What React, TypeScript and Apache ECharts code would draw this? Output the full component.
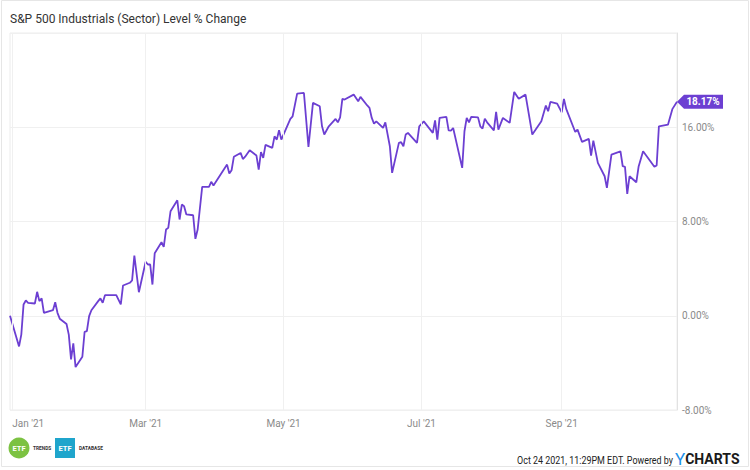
import React, { useEffect, useRef } from "react";
import * as echarts from "echarts";

const TITLE = "S&P 500 Industrials (Sector) Level % Change";
const FOOTER = "Oct 24 2021, 11:29PM EDT. Powered by";
const LINE_COLOR = "#6c3fd2";

const START = "2020-12-31";
const END = "2021-10-22";

const monthTicks = ["2021-01-01", "2021-03-01", "2021-05-01", "2021-07-01", "2021-09-01"];
const monthLabels = ["Jan '21", "Mar '21", "May '21", "Jul '21", "Sep '21"];

const dates = [
  "2020-12-31", "2021-01-04", "2021-01-05", "2021-01-06", "2021-01-07", "2021-01-08", "2021-01-11", "2021-01-12",
  "2021-01-13", "2021-01-14", "2021-01-15", "2021-01-19", "2021-01-20", "2021-01-21", "2021-01-22", "2021-01-25",
  "2021-01-26", "2021-01-27", "2021-01-28", "2021-01-29", "2021-02-01", "2021-02-02", "2021-02-03", "2021-02-04",
  "2021-02-05", "2021-02-08", "2021-02-09", "2021-02-10", "2021-02-11", "2021-02-12", "2021-02-16", "2021-02-18",
  "2021-02-19", "2021-02-22", "2021-02-23", "2021-02-24", "2021-02-26", "2021-03-01", "2021-03-02", "2021-03-03",
  "2021-03-04", "2021-03-05", "2021-03-08", "2021-03-09", "2021-03-10", "2021-03-11", "2021-03-12", "2021-03-15",
  "2021-03-16", "2021-03-17", "2021-03-18", "2021-03-19", "2021-03-22", "2021-03-23", "2021-03-24", "2021-03-26",
  "2021-03-29", "2021-03-30", "2021-03-31", "2021-04-06", "2021-04-07", "2021-04-08", "2021-04-09", "2021-04-12",
  "2021-04-13", "2021-04-14", "2021-04-16", "2021-04-19", "2021-04-20", "2021-04-21", "2021-04-22", "2021-04-23",
  "2021-04-26", "2021-04-27", "2021-04-28", "2021-04-29", "2021-04-30", "2021-05-04", "2021-05-05", "2021-05-07",
  "2021-05-10", "2021-05-12", "2021-05-14", "2021-05-17", "2021-05-18", "2021-05-19", "2021-05-21", "2021-05-24",
  "2021-05-25", "2021-05-26", "2021-05-27", "2021-05-28", "2021-06-01", "2021-06-03", "2021-06-04", "2021-06-07",
  "2021-06-08", "2021-06-09", "2021-06-10", "2021-06-11", "2021-06-14", "2021-06-15", "2021-06-17", "2021-06-18",
  "2021-06-21", "2021-06-22", "2021-06-23", "2021-06-24", "2021-06-25", "2021-06-29", "2021-06-30", "2021-07-02",
  "2021-07-06", "2021-07-07", "2021-07-08", "2021-07-09", "2021-07-12", "2021-07-13", "2021-07-14", "2021-07-15",
  "2021-07-19", "2021-07-20", "2021-07-21", "2021-07-22", "2021-07-23", "2021-07-26", "2021-07-27", "2021-07-28",
  "2021-07-29", "2021-07-30", "2021-08-02", "2021-08-03", "2021-08-04", "2021-08-06", "2021-08-09", "2021-08-11",
  "2021-08-13", "2021-08-16", "2021-08-19", "2021-08-23", "2021-08-25", "2021-08-26", "2021-08-27", "2021-08-30",
  "2021-09-01", "2021-09-02", "2021-09-03", "2021-09-07", "2021-09-08", "2021-09-10", "2021-09-13", "2021-09-14",
  "2021-09-15", "2021-09-17", "2021-09-20", "2021-09-21", "2021-09-23", "2021-09-27", "2021-09-28", "2021-09-29",
  "2021-09-30", "2021-10-01", "2021-10-04", "2021-10-05", "2021-10-07", "2021-10-12", "2021-10-13", "2021-10-14",
  "2021-10-18", "2021-10-20", "2021-10-22",
];

const values = [
  0, -2.6, -1.6, 0.96, 1.3, 1.1, 1.04, 2.03,
  1.24, 1.47, 0.25, 0.47, 1.15, 0.25, -0.25, -0.7,
  -1.6, -3.7, -2.35, -4.36, -3.48, -1.36, -1.3, -0.03,
  0.47, 1.24, 1.47, 1.1, 1.75, 1.75, 1.75, 0.96,
  2.57, 2.8, 3.0, 5.1, 2.0, 4.58, 4.35, 4.35,
  2.65, 5.3, 6.24, 5.85, 7.32, 7.46, 8.87, 9.8,
  8.17, 9.44, 9.3, 8.6, 8.53, 6.53, 7.32, 10.94,
  10.94, 11.37, 11.05, 12.83, 12.07, 12.35, 13.49, 13.82,
  13.3, 13.5, 14.05, 13.6, 12.4, 13.9, 13.4, 14.5,
  14.25, 15.23, 14.95, 15.74, 14.95, 16.71, 16.93, 18.86,
  18.91, 14.33, 18.07, 17.78, 16.08, 15.38, 16.08, 16.71,
  16.42, 16.84, 18.41, 18.35, 18.77, 18.2, 18.58, 17.85,
  17.64, 16.79, 16.31, 16.5, 15.94, 16.42, 14.39, 12.13,
  14.67, 14.73, 14.39, 15.38, 15.52, 14.67, 16.08, 16.5,
  15.52, 16.59, 14.95, 16.79, 16.88, 15.74, 15.71, 15.94,
  12.55, 15.66, 16.79, 16.42, 16.88, 16.84, 16.08, 15.89,
  16.73, 16.42, 15.74, 17.3, 15.8, 16.79, 16.37, 19.0,
  18.41, 18.77, 15.38, 16.5, 17.84, 17.36, 18.15, 18.0,
  17.27, 18.41, 17.56, 15.6, 15.8, 14.76, 15.01, 13.6,
  14.87, 12.98, 11.84, 10.86, 13.68, 13.96, 12.69, 12.64,
  10.35, 11.84, 11.33, 12.64, 13.96, 12.64, 12.75, 16.08,
  16.22, 17.56, 18.17,
];

const yMin = -8;
const yMax = 24;
const yStep = 8;

export default function App() {
  const ref = useRef<HTMLDivElement>(null);

  useEffect(() => {
    if (!ref.current) return;
    const chart = echarts.init(ref.current, undefined, { renderer: "svg" });
    const seriesData = dates.map((d, i) => [d, values[i]]);
    const lastIdx = values.length - 1;
    const lastLabel = values[lastIdx].toFixed(2) + "%";

    const option: any = {
      animation: false,
      backgroundColor: "#ffffff",
      textStyle: { fontFamily: "Roboto" },
      grid: {
        left: 10,
        right: 73,
        top: 33,
        bottom: 60,
        containLabel: false,
        outerBoundsMode: "none",
        show: true,
        borderColor: "#ececec",
        borderWidth: 1,
        backgroundColor: "transparent",
      },
      xAxis: {
        type: "time",
        min: START,
        max: END,
        axisLabel: { show: false },
        axisTick: { show: false },
        axisLine: { show: false },
        splitLine: { show: false },
      },
      yAxis: {
        type: "value",
        position: "right",
        min: yMin,
        max: yMax,
        interval: yStep,
        axisLine: { show: true, lineStyle: { color: "#e2e2e2" } },
        axisTick: { show: false },
        splitLine: { show: true, lineStyle: { color: "#f0f0f0" } },
        axisLabel: {
          formatter: (v: number) => v.toFixed(2) + "%",
          color: "#8a8a8a",
          fontSize: 10,
          margin: 5,
          showMaxLabel: false,
          padding: [0, 0, 6, 0],
        },
      },
      series: [
        {
          type: "line",
          data: seriesData,
          z: 1,
          silent: true,
          showSymbol: false,
          lineStyle: { opacity: 0 },
          markLine: {
            silent: true,
            symbol: ["none", "none"],
            lineStyle: { color: "#f0f0f0", type: "solid", width: 1 },
            label: { show: true, position: "start", color: "#8a8a8a", fontSize: 10, distance: 8 },
            data: monthTicks.map((d, i) => ({
              xAxis: d,
              label: { formatter: monthLabels[i], align: i === 0 ? "left" : "center" },
            })),
          },
        },
        {
          type: "line",
          data: seriesData,
          z: 3,
          showSymbol: false,
          lineStyle: { color: LINE_COLOR, width: 1.8 },
          itemStyle: { color: LINE_COLOR },
          markPoint: {
            silent: true,
            symbol: "path://M0,7L7,0L46,0L46,14L7,14Z",
            symbolSize: [46, 14],
            symbolOffset: [23, 0],
            itemStyle: { color: LINE_COLOR },
            label: {
              show: true,
              position: "inside",
              formatter: lastLabel,
              color: "#ffffff",
              fontWeight: "bold",
              fontSize: 10,
              offset: [3, 0],
            },
            data: [{ coord: [dates[lastIdx], values[lastIdx]], value: values[lastIdx] }],
          },
        },
      ],
      graphic: [
        {
          type: "rect",
          silent: true,
          z: -10,
          shape: { x: 1.5, y: 0.5, width: 747, height: 466 },
          style: { fill: "none", stroke: "#e6e6e6", lineWidth: 1 },
        },
        {
          type: "text",
          x: 10,
          y: 19,
          style: {
            text: TITLE,
            fontSize: 12,
            fontFamily: "Roboto",
            fill: "#333333",
            verticalAlign: "middle",
          },
        },
        {
          type: "circle",
          shape: { cx: 19, cy: 448, r: 10.5 },
          style: { fill: "#7cc242" },
        },
        {
          type: "text",
          x: 19,
          y: 448,
          style: { text: "ETF", fontSize: 7.5, fontWeight: "bold", fontFamily: "Roboto", fill: "#ffffff", align: "center", verticalAlign: "middle" },
        },
        {
          type: "text",
          x: 33,
          y: 448,
          style: { text: "TRENDS", fontSize: 4.8, fontWeight: "bold", fontFamily: "Roboto", fill: "#333333", verticalAlign: "middle" },
        },
        {
          type: "rect",
          shape: { x: 55, y: 438, width: 20, height: 20 },
          style: { fill: "#1fa5cc" },
        },
        {
          type: "text",
          x: 65,
          y: 448,
          style: { text: "ETF", fontSize: 7.5, fontWeight: "bold", fontFamily: "Roboto", fill: "#ffffff", align: "center", verticalAlign: "middle" },
        },
        {
          type: "text",
          x: 79,
          y: 448,
          style: { text: "DATABASE", fontSize: 4.8, fontWeight: "bold", fontFamily: "Roboto", fill: "#333333", verticalAlign: "middle" },
        },
        {
          type: "group",
          x: 673,
          y: 460,
          scaleX: 0.85,
          children: [
            {
              type: "text",
              x: 0,
              y: 0,
              style: { text: FOOTER, fontSize: 10.5, fontFamily: "Roboto", fill: "#222222", align: "right", verticalAlign: "middle" },
            },
          ],
        },
        {
          type: "text",
          x: 675,
          y: 459,
          style: {
            text: "{y|Y}{c|CHARTS}",
            verticalAlign: "middle",
            rich: {
              y: { fontSize: 17, fontFamily: "Roboto", fill: "#1e90e8", fontWeight: "normal" },
              c: { fontSize: 14, fontFamily: "Roboto", fill: "#1a1a1a", fontWeight: "bold" },
            },
          },
        },
      ],
    };

    chart.setOption(option);
    return () => chart.dispose();
  }, []);

  return (
    <div
      ref={ref}
      style={{ position: "fixed", left: 0, top: 0, width: 750, height: 470, background: "#fff" }}
    />
  );
}
